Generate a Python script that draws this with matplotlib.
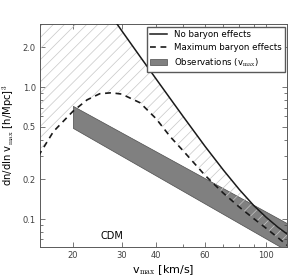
import matplotlib
matplotlib.use('Agg')
import matplotlib.pyplot as plt
from matplotlib.ticker import FixedLocator, FixedFormatter, NullFormatter, LogLocator
import numpy as np

plt.rcParams['mathtext.fontset'] = 'cm'
plt.rcParams['hatch.linewidth'] = 0.5

# velocity grid [km/s] and the two abundance curves
vmax = [15, 17, 20, 22.5, 25, 27.5, 30, 35, 40, 45, 50, 60, 70, 80, 90, 100, 110, 120]
no_baryon = [21.0, 14.7, 9.0, 6.4, 4.6, 3.48, 2.68, 1.70, 1.15, 0.816, 0.601,
             0.357, 0.235, 0.167, 0.127, 0.103, 0.087, 0.076]
max_baryon = [0.30, 0.46, 0.655, 0.80, 0.89, 0.905, 0.885, 0.76, 0.575, 0.42, 0.33,
              0.215, 0.157, 0.123, 0.101, 0.085, 0.0725, 0.0625]

# observational band (power law, corners)
obs_v = [20, 120]
obs_hi = [0.72, 0.092]
obs_lo = [0.49, 0.057]

xticks = [20, 30, 40, 60, 100]
xminor = [50, 70, 80, 90]
yticks = [0.1, 0.2, 0.5, 1.0, 2.0]

fig = plt.figure(figsize=(2.96, 2.77), dpi=100)
ax = fig.add_axes([0.135, 0.108, 0.835, 0.805])

# observations
ax.fill_between(obs_v, obs_lo, obs_hi, facecolor='0.5', edgecolor='0.3',
                linewidth=0.5, label=r'Observations (v$_{\rm max}$)', zorder=1)

# hatched region between the two models
ax.fill_between(vmax, max_baryon, no_baryon, facecolor='none', edgecolor='0.78',
                linewidth=0, hatch='///', zorder=2)

ax.plot(vmax, no_baryon, color='0.1', lw=1.1, label='No baryon effects', zorder=3)
ax.plot(vmax, max_baryon, color='0.1', lw=1.2, ls=(0, (3.5, 2.8)),
        label='Maximum baryon effects', zorder=3)

ax.set_xscale('log')
ax.set_yscale('log')
ax.set_xlim(15.2, 119)
ax.set_ylim(0.0613, 3.0)

ax.xaxis.set_major_locator(FixedLocator(xticks))
ax.xaxis.set_major_formatter(FixedFormatter([str(t) for t in xticks]))
ax.xaxis.set_minor_locator(FixedLocator(xminor))
ax.xaxis.set_minor_formatter(NullFormatter())
ax.yaxis.set_major_locator(FixedLocator(yticks))
ax.yaxis.set_major_formatter(FixedFormatter(['%.1f' % t for t in yticks]))
ax.yaxis.set_minor_locator(LogLocator(base=10, subs=np.arange(2, 10)))
ax.yaxis.set_minor_formatter(NullFormatter())

ax.tick_params(which='both', direction='in', top=True, right=True, labelsize=6,
               width=0.5, pad=3, colors='0.25')
ax.tick_params(which='major', length=3.5)
ax.tick_params(which='minor', length=2)
for sp in ax.spines.values():
    sp.set_linewidth(0.7)
    sp.set_color('0.35')

ax.set_xlabel(r'v$_{\rm max}$ [km/s]', fontsize=8, labelpad=2)
ax.set_ylabel(r'dn/dln v$_{\rm max}$ [h/Mpc]$^\mathsf{3}$', fontsize=7.2, labelpad=5)

ax.text(0.29, 0.05, 'CDM', transform=ax.transAxes, fontsize=7,
        ha='center', va='center')

h, l = ax.get_legend_handles_labels()
order = [1, 2, 0]
ax.legend([h[i] for i in order], [l[i] for i in order], loc='upper right',
          fontsize=6.2, fancybox=False, edgecolor='0.35', framealpha=1,
          borderaxespad=0.3, handlelength=2.0, borderpad=0.35)

fig.savefig('out.png', dpi=100)
